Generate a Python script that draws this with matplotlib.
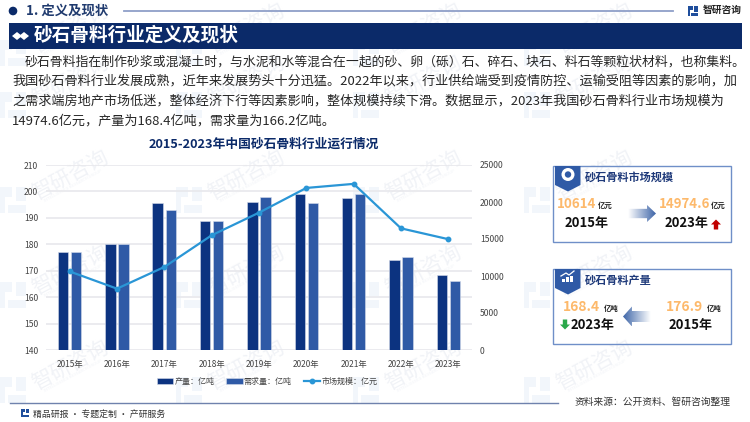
import numpy as np
import matplotlib
matplotlib.use('Agg')
import matplotlib.pyplot as plt
from matplotlib.patches import Rectangle, Polygon, Circle

plt.rcParams['font.family'] = ['Noto Sans CJK SC', 'DejaVu Sans']

years = ['2015年', '2016年', '2017年', '2018年', '2019年', '2020年', '2021年', '2022年', '2023年']
output = [176.9, 180.0, 195.6, 189.0, 196.0, 199.2, 197.4, 174.0, 168.4]
demand = [176.9, 180.0, 192.8, 188.7, 198.0, 195.8, 199.0, 175.1, 166.2]
market = [10614, 8290, 11220, 15500, 18560, 21900, 22450, 16440, 14974.6]

left_ticks = [140, 150, 160, 170, 180, 190, 200, 210]
right_ticks = [0, 5000, 10000, 15000, 20000, 25000]

body_lines = [
    '砂石骨料指在制作砂浆或混凝土时，与水泥和水等混合在一起的砂、卵（砾）石、碎石、块石、料石等颗粒状材料，也称集料。',
    '我国砂石骨料行业发展成熟，近年来发展势头十分迅猛。2022年以来，行业供给端受到疫情防控、运输受阻等因素的影响，加',
    '之需求端房地产市场低迷，整体经济下行等因素影响，整体规模持续下滑。数据显示，2023年我国砂石骨料行业市场规模为',
    '14974.6亿元，产量为168.4亿吨，需求量为166.2亿吨。',
]

NAVY = '#0b2a69'
BAR1 = '#0c3380'
BAR2 = '#2f5aa6'
LINE = '#2a96d6'
ORANGE = '#fdb96b'

fig = plt.figure(figsize=(7.5, 4.22), dpi=100, facecolor='white')

# full figure axes in pixel coordinates for the page furniture
bg = fig.add_axes([0, 0, 1, 1], zorder=0)
bg.set_xlim(0, 750)
bg.set_ylim(422, 0)
bg.axis('off')


def logo(ax, x, y, s, color, zorder=1):
    # small square-ish company mark
    ax.add_patch(Polygon([(x, y), (x + s * 0.45, y), (x + s * 0.45, y + s * 0.4), (x + s * 0.2, y + s * 0.4),
                          (x + s * 0.2, y + s), (x, y + s)], color=color, lw=0, zorder=zorder))
    ax.add_patch(Polygon([(x + s * 0.6, y), (x + s, y), (x + s, y + s * 0.55), (x + s * 0.6, y + s * 0.55)],
                         color=color, lw=0, zorder=zorder))
    ax.add_patch(Polygon([(x + s * 0.3, y + s * 0.7), (x + s, y + s * 0.7), (x + s, y + s), (x + s * 0.3, y + s)],
                         color=color, lw=0, zorder=zorder))


# watermarks
for wy in [28, 80, 175, 270, 365]:
    for wx in [70, 246, 423, 594]:
        bg.text(wx, wy, '智研咨询', color='#f1f3f7', fontsize=15, rotation=28, ha='center', va='center', zorder=1)
        bg.text(wx + 3, wy + 11, 'INTELLIGENCE RESEARCH GROUP', color='#f2f4f8', fontsize=3, rotation=28,
                ha='center', va='center', zorder=1)
        logo(bg, wx - 70, wy + 12, 26, '#f2f6fb')

# header
bg.add_patch(Circle((13, 11), 3.6, color=NAVY, zorder=3))
bg.text(26, 11, '1. 定义及现状', color='#1f3a6e', fontsize=9.6, fontweight='bold', va='center', zorder=3)
bg.plot([124, 673], [10.5, 10.5], color='#8f9fc8', lw=1.3, zorder=3)
logo(bg, 688, 6, 10, '#1f4e9c', zorder=3)
bg.text(703, 10, '智研咨询', color='#222222', fontsize=7, fontweight='bold', va='center', zorder=3)

bg.add_patch(Rectangle((9, 23), 733, 26, color=NAVY, lw=0, zorder=3))
for dx in [17, 24]:
    bg.add_patch(Polygon([(dx - 5, 36), (dx, 32), (dx + 5, 36), (dx, 40)], color='white', lw=0, zorder=4))
bg.text(34, 35.5, '砂石骨料行业定义及现状', color='white', fontsize=13.4, fontweight='bold', va='center', zorder=4)

# body text
bg.text(25, 62, body_lines[0], color='#262626', fontsize=9.25, va='center', zorder=3)
for yy, line in zip([81, 101, 121], body_lines[1:]):
    bg.text(12, yy, line, color='#262626', fontsize=9.45, va='center', zorder=3)

# chart
ax = fig.add_axes([46 / 750, 1 - 350 / 422, 426 / 750, 185 / 422], zorder=2)
ax.patch.set_alpha(0)
x = np.arange(len(years))
ax.bar(x - 0.14, output, width=0.22, color=BAR1, edgecolor='#d5dcea', linewidth=0.4, label='产量：亿吨', zorder=3)
ax.bar(x + 0.14, demand, width=0.22, color=BAR2, edgecolor='#d5dcea', linewidth=0.4, label='需求量：亿吨', zorder=3)
ax.set_xlim(-0.5, len(years) - 0.5)
ax.set_ylim(140, 210)
ax.set_yticks(left_ticks)
ax.set_xticks(x)
ax.set_xticklabels(years)
ax.tick_params(length=0, labelsize=6, labelcolor='#444444')
ax.tick_params(axis='x', pad=7)
ax.tick_params(axis='y', pad=5.5, labelsize=6.2)
ax.grid(axis='y', color='#e8e8ec', lw=1.2, zorder=0)
for s in ax.spines.values():
    s.set_visible(False)

ax2 = ax.twinx()
ax2.patch.set_alpha(0)
ax2.plot(x, market, color=LINE, lw=1.6, marker='o', ms=3.2, label='市场规模：亿元', zorder=5)
ax2.set_ylim(0, 25000)
ax2.set_yticks(right_ticks)
ax2.tick_params(length=0, labelsize=6.2, labelcolor='#444444', pad=5.8)
for s in ax2.spines.values():
    s.set_visible(False)

h1, l1 = ax.get_legend_handles_labels()
h2, l2 = ax2.get_legend_handles_labels()
ax2.legend(h1 + h2, l1 + l2, ncol=3, frameon=False, fontsize=5.8, loc='center', bbox_to_anchor=(0.519, -0.17),
           handlelength=2.0, handletextpad=0.15, columnspacing=1.5, labelcolor='#444444')

bg.text(263.5, 144, '2015-2023年中国砂石骨料行业运行情况', color=NAVY, fontsize=9.2, fontweight='bold',
        ha='center', va='center', zorder=3)

# side cards
fg = fig.add_axes([0, 0, 1, 1], zorder=3)
fg.set_xlim(0, 750)
fg.set_ylim(422, 0)
fg.axis('off')


def card(top, bottom, title):
    fg.add_patch(Rectangle((553, top), 177.5, bottom - top, facecolor='none', edgecolor='#6f8fc8', lw=1))
    fg.add_patch(Polygon([(555, top), (580.5, top), (580.5, top + 19), (568, top + 25.5), (555, top + 19)],
                         color='#2f5aa6', lw=0))
    fg.text(585, top + 11, title, color='#1f3a7a', fontsize=8, fontweight='bold', va='center')


def grad_arrow(x0, x1, ymid, half, pointing_right):
    # arrow fades from pale at the tail into blue at the head
    g = np.linspace(0, 1, 64).reshape(1, -1)
    if not pointing_right:
        g = g[:, ::-1]
    cm = matplotlib.colors.LinearSegmentedColormap.from_list('a', ['#ffffff', '#3f66a8'])
    im = fg.imshow(g, extent=[x0, x1, ymid + half, ymid - half], cmap=cm, aspect='auto', zorder=2)
    w = x1 - x0
    if pointing_right:
        pts = [(x0, ymid - half * 0.55), (x0 + w * 0.68, ymid - half * 0.55), (x0 + w * 0.68, ymid - half),
               (x1, ymid), (x0 + w * 0.68, ymid + half), (x0 + w * 0.68, ymid + half * 0.55), (x0, ymid + half * 0.55)]
    else:
        pts = [(x1, ymid - half * 0.55), (x1 - w * 0.68, ymid - half * 0.55), (x1 - w * 0.68, ymid - half),
               (x0, ymid), (x1 - w * 0.68, ymid + half), (x1 - w * 0.68, ymid + half * 0.55), (x1, ymid + half * 0.55)]
    poly = Polygon(pts, transform=fg.transData, facecolor='none', edgecolor='none')
    fg.add_patch(poly)
    im.set_clip_path(poly)
    fg.set_xlim(0, 750)
    fg.set_ylim(422, 0)


def updown(cx, ymid, color, up):
    d = -1 if up else 1
    pts = [(cx, ymid + d * 5), (cx - 5, ymid), (cx - 2.2, ymid), (cx - 2.2, ymid - d * 5),
           (cx + 2.2, ymid - d * 5), (cx + 2.2, ymid), (cx + 5, ymid)]
    fg.add_patch(Polygon(pts, color=color, lw=0))


# market size card
card(166, 242, '砂石骨料市场规模')
fg.add_patch(Circle((568, 174.5), 6.5, facecolor='white', edgecolor='none'))
fg.add_patch(Circle((568, 174.5), 3.2, facecolor='#2f5aa6', edgecolor='none'))
fg.text(557, 204, '10614', color=ORANGE, fontsize=9.6, fontweight='bold', va='center')
fg.text(597.5, 205, '亿元', color='#222222', fontsize=5.3, fontweight='bold', va='center')
fg.text(587, 223, '2015年', color='#111111', fontsize=9.4, fontweight='bold', ha='center', va='center')
fg.text(659, 204, '14974.6', color=ORANGE, fontsize=9.6, fontweight='bold', va='center')
fg.text(711, 205, '亿元', color='#222222', fontsize=5.3, fontweight='bold', va='center')
fg.text(686.5, 223, '2023年', color='#111111', fontsize=9.4, fontweight='bold', ha='center', va='center')
updown(716, 224.5, '#c00000', True)
grad_arrow(628, 656, 213.5, 8.5, True)

# output card
card(269, 344, '砂石骨料产量')
for bx, bh in [(562, 3), (566, 5), (570, 6)]:
    fg.add_patch(Rectangle((bx, 282 - bh), 3, bh, color='white', lw=0))
fg.plot([561, 566, 569, 574], [276, 273, 275, 271], color='white', lw=0.9)
fg.text(563, 307, '168.4', color=ORANGE, fontsize=10, fontweight='bold', va='center')
fg.text(604, 308, '亿吨', color='#222222', fontsize=5.3, fontweight='bold', va='center')
fg.text(666, 307, '176.9', color=ORANGE, fontsize=10, fontweight='bold', va='center')
fg.text(707, 308, '亿吨', color='#222222', fontsize=5.3, fontweight='bold', va='center')
fg.text(593, 325, '2023年', color='#111111', fontsize=9.4, fontweight='bold', ha='center', va='center')
fg.text(690.5, 325, '2015年', color='#111111', fontsize=9.4, fontweight='bold', ha='center', va='center')
updown(565, 324.5, '#2aa84a', False)
grad_arrow(623, 651, 316.5, 10, False)

# footer
bg.plot([10, 558], [403, 403], color='#6f82ad', lw=1, zorder=3)
logo(bg, 21, 409, 8, '#1f4e9c', zorder=3)
bg.text(33, 414, '精品研报 · 专题定制 · 产研服务', color='#333333', fontsize=6.4, va='center', zorder=3)
bg.text(575, 402, '资料来源：公开资料、智研咨询整理', color='#333333', fontsize=7, va='center', zorder=3)

fig.savefig('out.png', dpi=100)
